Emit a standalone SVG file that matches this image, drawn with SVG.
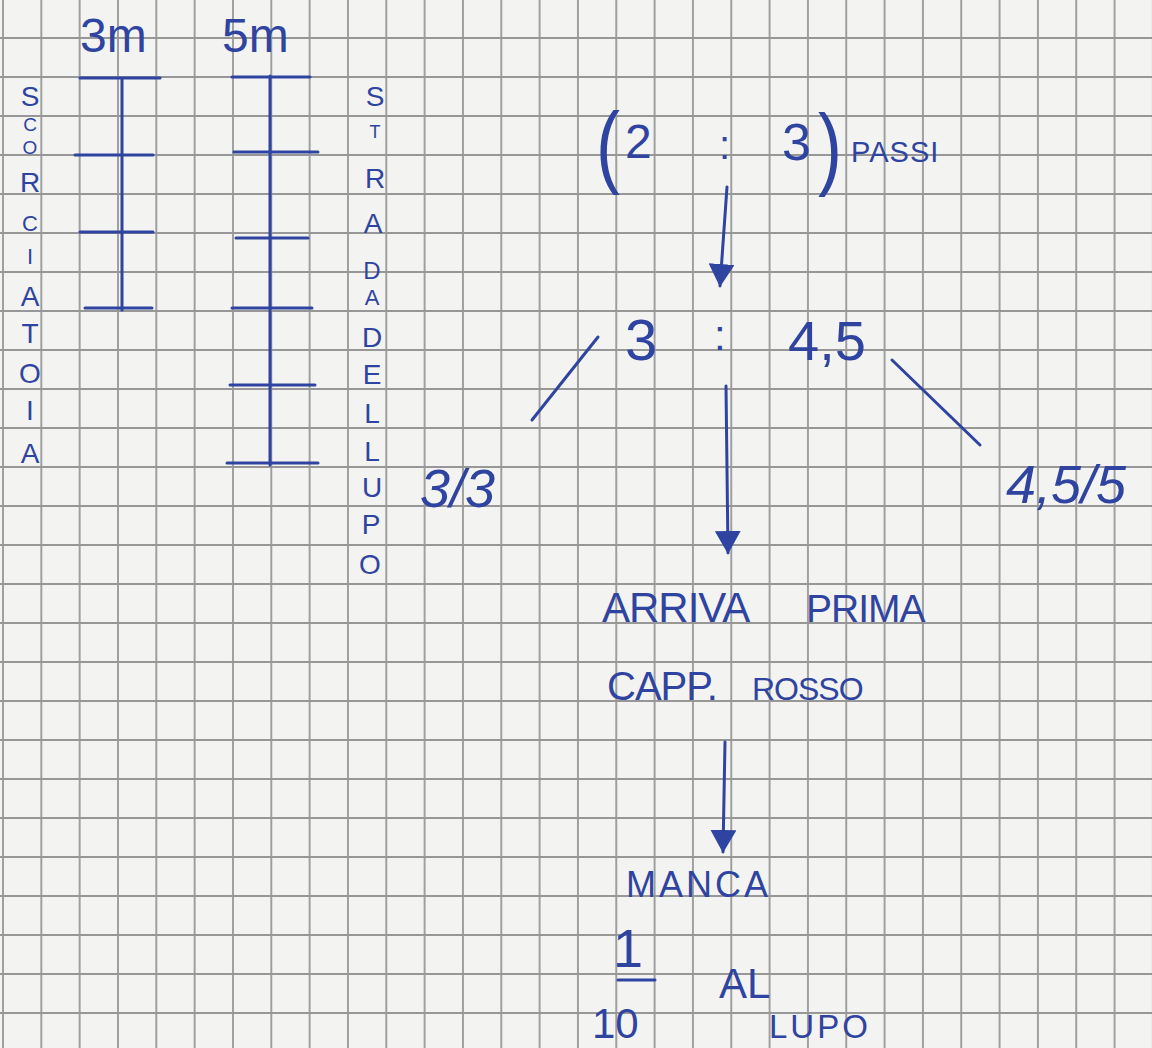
<svg xmlns="http://www.w3.org/2000/svg" width="1152" height="1048" viewBox="0 0 1152 1048">
<defs>
<pattern id="grid" patternUnits="userSpaceOnUse" x="2" y="37" width="38.33" height="39">
<path d="M1 0 V39 M0 1 H38.33" stroke="#979797" stroke-width="1.8" fill="none"/>
</pattern>
<marker id="head" viewBox="0 0 24 26" refX="22" refY="13" markerWidth="24" markerHeight="26" markerUnits="userSpaceOnUse" orient="auto">
<path d="M0 0 L23 13 L0 26 Z" fill="#2f44a0"/>
</marker>
<style>
.ink{stroke:#2f44a0;stroke-width:3;fill:none;stroke-linecap:round}
.t{font-family:"Liberation Sans",Arial,sans-serif;fill:#2f44a0}
.v{font-size:28px;text-anchor:middle}
</style>
</defs>
<rect width="1152" height="1048" fill="#f3f3f1"/>
<rect width="1152" height="1048" fill="url(#grid)"/>

<g id="bar3m">
<text class="t" x="80" y="52" font-size="48">3m</text>
<path class="ink" d="M122 78 V310 M80 78 H160 M75 155 H153 M80 232 H153 M85 308 H152"/>
</g>
<g id="bar5m">
<text class="t" x="222" y="52" font-size="48">5m</text>
<path class="ink" d="M270 76 V465 M232 77 H310 M234 152 H318 M236 238 H308 M232 308 H312 M230 385 H315 M227 463 H318"/>
</g>
<g id="scorciatoia" class="t v">
<text x="30" y="106">S</text><text x="30" y="131" font-size="19">C</text><text x="30" y="154" font-size="19">O</text>
<text x="30" y="192">R</text><text x="30" y="231" font-size="22">C</text><text x="30" y="264" font-size="22">I</text>
<text x="30" y="306">A</text><text x="30" y="343">T</text><text x="30" y="383">O</text>
<text x="30" y="420">I</text><text x="30" y="463">A</text>
</g>
<g id="stradadellupo" class="t v">
<text x="375" y="106">S</text><text x="375" y="138" font-size="18">T</text><text x="375" y="188">R</text>
<text x="373" y="233">A</text><text x="372" y="279" font-size="24">D</text><text x="372" y="305" font-size="22">A</text>
<text x="372" y="347">D</text><text x="372" y="384">E</text><text x="372" y="423">L</text>
<text x="372" y="461">L</text><text x="372" y="497">U</text><text x="371" y="534">P</text>
<text x="370" y="574">O</text>
</g>
<g id="ratio1">
<text class="t" x="596" y="176" font-size="90" font-weight="300" transform="translate(596 0) scale(0.8 1) translate(-596 0)">(</text>
<text class="t" x="625" y="158" font-size="48">2</text>
<text class="t" x="719" y="159" font-size="40">:</text>
<text class="t" x="782" y="160" font-size="52">3</text>
<text class="t" x="818" y="178" font-size="90" font-weight="300" transform="translate(818 0) scale(0.8 1) translate(-818 0)">)</text>
<text class="t" x="851" y="162" font-size="29" letter-spacing="1">PASSI</text>
</g>
<g id="ratio2">
<text class="t" x="625" y="360" font-size="58">3</text>
<text class="t" x="714" y="350" font-size="42">:</text>
<text class="t" x="788" y="360" font-size="56">4,5</text>
</g>
<g id="frac-left">
<text class="t" x="420" y="507" font-size="54" font-style="italic">3/3</text>
</g>
<g id="frac-right">
<text class="t" x="1006" y="503" font-size="54" font-style="italic">4,5/5</text>
</g>
<g id="arriva">
<text class="t" x="602" y="622" font-size="42" letter-spacing="-1">ARRIVA</text>
<text class="t" x="806" y="622" font-size="39" letter-spacing="-1">PRIMA</text>
<text class="t" x="607" y="700" font-size="40" letter-spacing="-1">CAPP.</text>
<text class="t" x="752" y="700" font-size="32" letter-spacing="-1">ROSSO</text>
</g>
<g id="manca">
<text class="t" x="626" y="897" font-size="36" letter-spacing="3">MANCA</text>
<text class="t" x="613" y="967" font-size="54">1</text>
<path class="ink" d="M618 980 H655"/>
<text class="t" x="592" y="1038" font-size="42">10</text>
<text class="t" x="719" y="998" font-size="42">AL</text>
<text class="t" x="769" y="1038" font-size="33" letter-spacing="3">LUPO</text>
</g>
<g id="connectors">
<path class="ink" d="M727 187 L720 286" marker-end="url(#head)"/>
<path class="ink" d="M726 386 L728 553" marker-end="url(#head)"/>
<path class="ink" d="M725 742 L723 852" marker-end="url(#head)"/>
<path class="ink" d="M598 337 L532 420"/>
<path class="ink" d="M892 360 L980 445"/>
</g>
</svg>
